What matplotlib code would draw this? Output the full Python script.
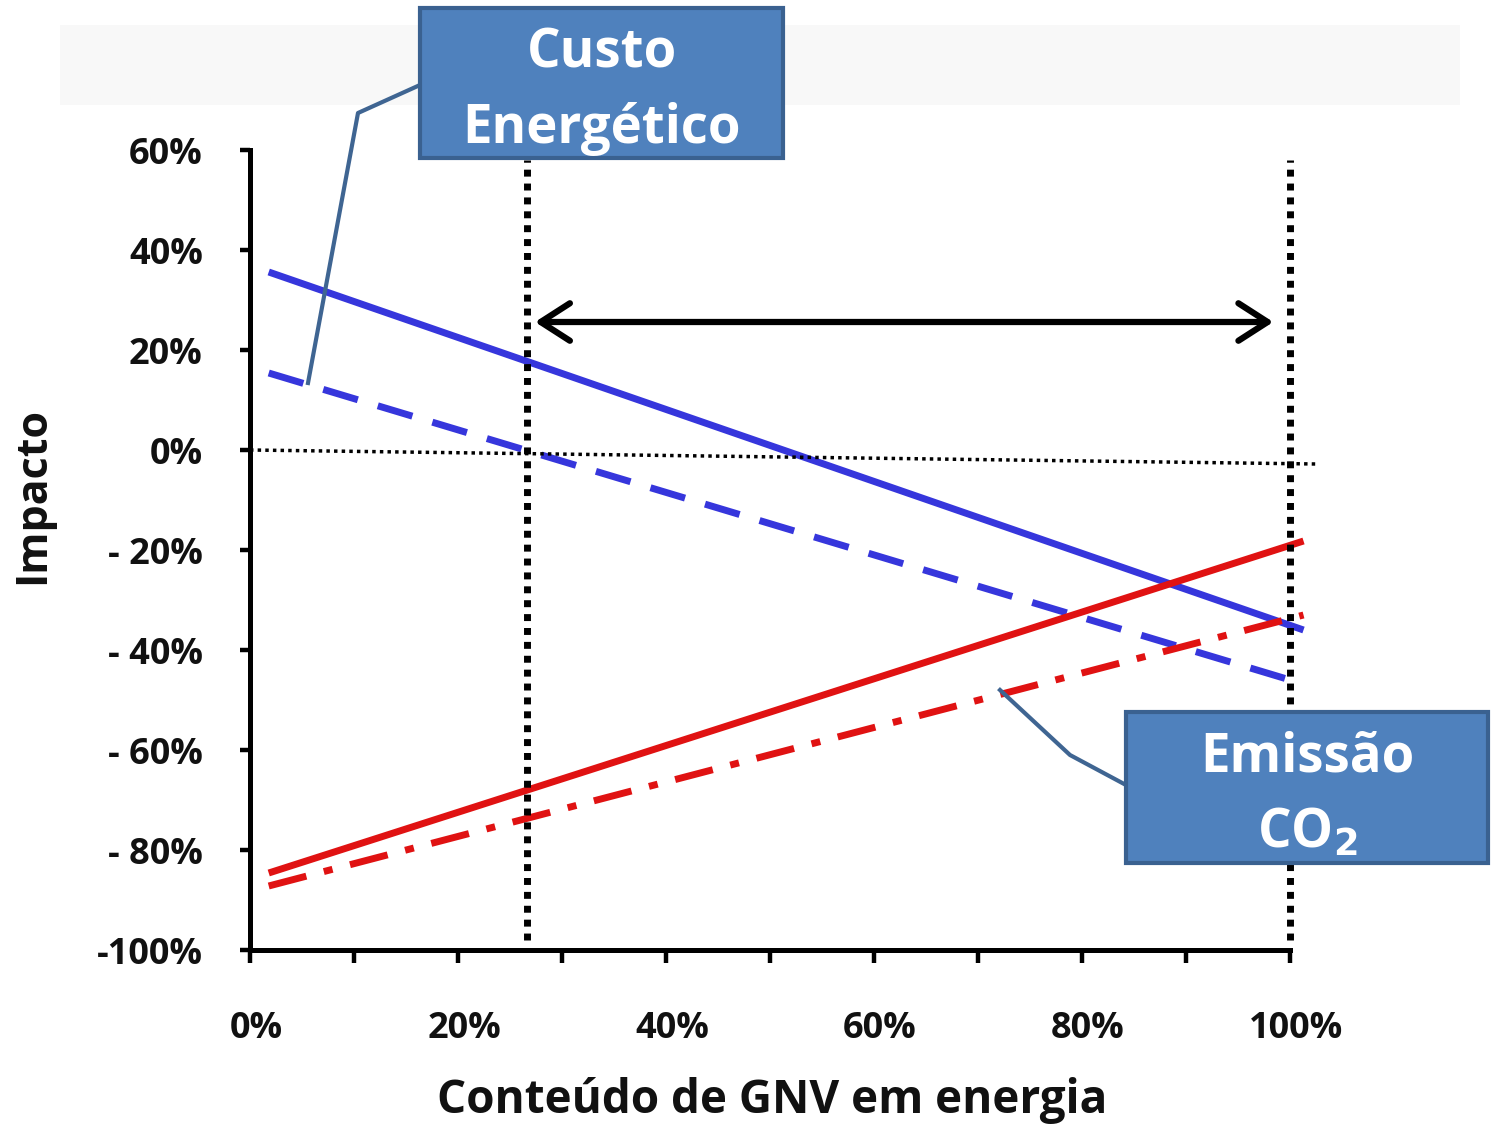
import matplotlib.pyplot as plt
import matplotlib.transforms as mtransforms
from matplotlib.patches import Rectangle
from matplotlib.ticker import FixedLocator, FixedFormatter

plt.rcParams['font.family'] = ['Open Sans', 'DejaVu Sans']
plt.rcParams['font.weight'] = 'bold'

# GNV content (%) at the ends of each straight line
gnv_x = [1.8, 101.3]
custo = [35.6, -36.0]            # energy cost, solid blue
custo_tracejado = [15.4, -46.8]  # energy cost, dashed blue
emissao = [-84.6, -18.2]         # CO2 emission, solid red
emissao_tp = [-87.2, -33.0]      # CO2 emission, dash-dot red

zero_x = [0, 102.5]
zero_y = [0, -2.8]

faixa = [26.6, 100.0]            # vertical dotted limits
seta_x = [27.4, 98.4]
seta_y = 25.6

x_ticks = [0, 10, 20, 30, 40, 50, 60, 70, 80, 90, 100]
x_labels = ["0%", "", "20%", "", "40%", "", "60%", "", "80%", "", "100%"]
y_ticks = [60, 40, 20, 0, -20, -40, -60, -80, -100]
y_labels = ["60%", "40%", "20%", "0%", "- 20%", "- 40%", "- 60%", "- 80%", "-100%"]

W, H = 1495, 1124
fig = plt.figure(figsize=(W / 100, H / 100), dpi=100)
fig.patch.set_facecolor("white")

# faint grey haze at the top of the slide
fig.patches.append(Rectangle((60 / W, 1 - 105 / H), 1400 / W, 80 / H,
                             transform=fig.transFigure, facecolor="#f8f8f8",
                             edgecolor="none", zorder=0))

ax = fig.add_axes([250 / W, 1 - 950 / H, 1040 / W, 800 / H])
ax.set_xlim(0, 100)
ax.set_ylim(-100, 60)
ax.patch.set_alpha(0)

for s in ["top", "right"]:
    ax.spines[s].set_visible(False)
for s in ["left", "bottom"]:
    ax.spines[s].set_linewidth(3.6)
    ax.spines[s].set_capstyle("projecting")

ax.xaxis.set_major_locator(FixedLocator(x_ticks))
ax.xaxis.set_major_formatter(FixedFormatter(x_labels))
ax.yaxis.set_major_locator(FixedLocator(y_ticks))
ax.yaxis.set_major_formatter(FixedFormatter(y_labels))
ax.tick_params(axis="x", direction="out", length=9, width=3.2, pad=35, labelsize=26)
ax.tick_params(axis="y", direction="out", length=7, width=3.2, pad=27, labelsize=26)
shift = mtransforms.ScaledTranslation(6 / 100, 0, fig.dpi_scale_trans)
for lab in ax.get_xticklabels():
    lab.set_transform(lab.get_transform() + shift)
for lab in ax.get_xticklabels() + ax.get_yticklabels():
    lab.set_fontweight("bold")
    lab.set_color("#111111")

blue = "#3636DC"
red = "#E01212"
ax.plot(gnv_x, custo, color=blue, lw=5, clip_on=False, solid_capstyle="butt")
ax.plot(gnv_x, custo_tracejado, color=blue, lw=5, clip_on=False,
        dashes=(5.2, 3.0), dash_capstyle="butt")
ax.plot(gnv_x, emissao, color=red, lw=5, clip_on=False, solid_capstyle="butt")
ax.plot(gnv_x, emissao_tp, color=red, lw=5, clip_on=False,
        dashes=(5.6, 2.6, 1.3, 2.6), dash_capstyle="butt")

# zero reference and the range markers
ax.plot(zero_x, zero_y, color="black", lw=2.5, linestyle=(0, (1, 1.2)), clip_on=False)
for xv in faixa:
    ax.plot([xv, xv], [-98, 58], color="black", lw=5, linestyle=(0, (1, 1)), clip_on=False)

ax.annotate("", xy=(seta_x[1], seta_y), xytext=(seta_x[0], seta_y),
            arrowprops=dict(arrowstyle="<->,head_length=0.7,head_width=0.45",
                            lw=4.5, color="black", mutation_scale=30,
                            shrinkA=0, shrinkB=0, capstyle="round", joinstyle="round"))

# callout boxes (figure pixels)
box_fc = "#4F81BD"
box_ec = "#3A6190"
lead = "#3F6592"

def callout(x0, y0, x1, y1, lines, leader):
    fig.patches.append(Rectangle((x0 / W, 1 - y1 / H), (x1 - x0) / W, (y1 - y0) / H,
                                 transform=fig.transFigure, facecolor=box_fc,
                                 edgecolor=box_ec, lw=3, zorder=5))
    lx = [p[0] / W for p in leader]
    ly = [1 - p[1] / H for p in leader]
    fig.add_artist(plt.Line2D(lx, ly, color=lead, lw=3, transform=fig.transFigure, zorder=4))
    n = len(lines)
    for i, t in enumerate(lines):
        yc = y0 + (y1 - y0) * (i + 0.5) / n + 8
        fig.text((x0 + x1) / 2 / W, 1 - yc / H, t, color="white", fontsize=38,
                 fontweight="bold", ha="center", va="center", zorder=6)

callout(420, 8, 783, 158, ["Custo", "Energético"],
        [(420, 85), (358, 113), (308, 383)])
callout(1126, 712, 1488, 863, ["Emissão", "CO$_\\mathbf{2}$"],
        [(1126, 785), (1070, 755), (1000, 690)])

fig.text(772 / W, 1 - 1100 / H, "Conteúdo de GNV em energia", fontsize=33,
         fontweight="bold", ha="center", va="center", color="#111111")
fig.text(33 / W, 1 - 495 / H, "Impacto", fontsize=31, fontweight="bold",
         rotation=90, ha="center", va="center", color="#111111")

plt.savefig("out.png", dpi=100)
